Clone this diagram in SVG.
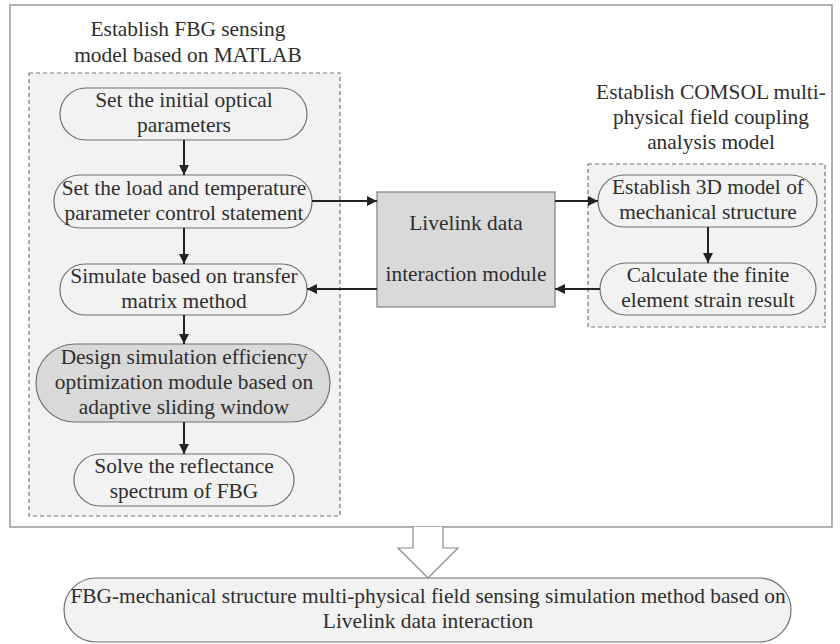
<svg xmlns="http://www.w3.org/2000/svg" width="840" height="644" viewBox="0 0 840 644">
<defs>
<marker id="ah" viewBox="0 0 10 10" refX="10" refY="5" markerWidth="10" markerHeight="10" markerUnits="userSpaceOnUse" orient="auto">
<path d="M0,0 L10,5 L0,10 Z" fill="#222"/>
</marker>
</defs>
<style>
text{font-family:"Liberation Serif","Times New Roman","DejaVu Serif",serif;font-size:21.4px;fill:#2e2e2e;text-anchor:middle}
.node{fill:#f2f2f2;stroke:#707070;stroke-width:1.2}
.dark{fill:#d9d9d9}
.grp{fill:#f2f2f2;stroke:#777;stroke-width:1.2;stroke-dasharray:4 3}
.conn line{stroke:#222;stroke-width:2;marker-end:url(#ah)}
</style>
<rect x="0" y="0" width="840" height="644" fill="#fff"/>
<rect id="frame" x="10" y="5" width="822" height="522" fill="#fff" stroke="#888" stroke-width="1.3"/>

<g id="matlab-group">
<rect class="grp" x="29" y="73" width="311" height="443"/>
<text x="188" y="36">Establish FBG sensing</text>
<text x="188" y="62">model based on MATLAB</text>
</g>

<g id="comsol-group">
<rect class="grp" x="588" y="164" width="237" height="163"/>
<text x="711" y="99">Establish COMSOL multi-</text>
<text x="711" y="124">physical field coupling</text>
<text x="711" y="149">analysis model</text>
</g>

<g id="n1">
<rect class="node" x="60" y="88" width="247" height="52" rx="26"/>
<text x="184" y="107">Set the initial optical</text>
<text x="184" y="132">parameters</text>
</g>
<g id="n2">
<rect class="node" x="54" y="175" width="258" height="53" rx="26"/>
<text x="184" y="195">Set the load and temperature</text>
<text x="184" y="220">parameter control statement</text>
</g>
<g id="n3">
<rect class="node" x="60" y="264" width="247" height="51" rx="25"/>
<text x="184" y="283">Simulate based on transfer</text>
<text x="184" y="308">matrix method</text>
</g>
<g id="n4">
<rect class="node dark" x="36" y="344" width="294" height="78" rx="39"/>
<text x="184" y="364">Design simulation efficiency</text>
<text x="184" y="389">optimization module based on</text>
<text x="184" y="414">adaptive sliding window</text>
</g>
<g id="n5">
<rect class="node" x="74" y="454" width="220" height="52" rx="26"/>
<text x="184" y="473">Solve the reflectance</text>
<text x="184" y="498">spectrum of FBG</text>
</g>

<g id="livelink">
<rect x="377" y="192" width="178" height="115" fill="#d9d9d9" stroke="#808080" stroke-width="1.2"/>
<text x="466" y="230">Livelink data</text>
<text x="466" y="281">interaction module</text>
</g>

<g id="r1">
<rect class="node" x="598" y="175" width="219" height="52" rx="26"/>
<text x="708" y="194">Establish 3D model of</text>
<text x="708" y="219">mechanical structure</text>
</g>
<g id="r2">
<rect class="node" x="600" y="263" width="216" height="52" rx="26"/>
<text x="708" y="282">Calculate the finite</text>
<text x="708" y="307">element strain result</text>
</g>

<g id="result">
<rect class="node" x="64" y="578" width="727" height="64" rx="32"/>
<text x="428" y="603">FBG-mechanical structure multi-physical field sensing simulation method based on</text>
<text x="428" y="628">Livelink data interaction</text>
</g>

<g id="connectors" class="conn">
<line x1="184" y1="140" x2="184" y2="175"/>
<line x1="184" y1="228" x2="184" y2="264"/>
<line x1="184" y1="315" x2="184" y2="344"/>
<line x1="184" y1="422" x2="184" y2="454"/>
<line x1="312" y1="201" x2="377" y2="201"/>
<line x1="377" y1="289" x2="307" y2="289"/>
<line x1="555" y1="201" x2="598" y2="201"/>
<line x1="600" y1="289" x2="555" y2="289"/>
<line x1="708" y1="227" x2="708" y2="263"/>
<path d="M413,527 L413,548 L398,548 L428,578 L458,548 L443,548 L443,527" fill="#fff" stroke="#888" stroke-width="1.2"/>
</g>
</svg>
